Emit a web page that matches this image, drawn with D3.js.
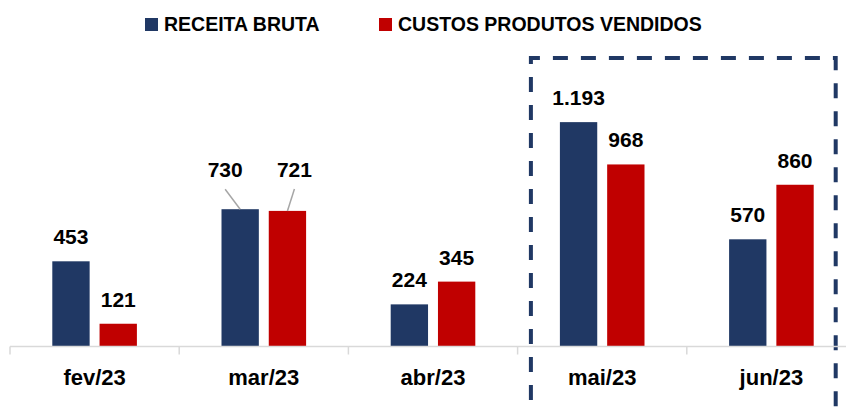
<!DOCTYPE html>
<html>
<head>
<meta charset="utf-8">
<script src="https://cdn.jsdelivr.net/npm/d3@7"></script>
<style>
  body { margin: 0; background: #fff; }
  text { font-family: "Liberation Sans", Arial, sans-serif; font-weight: bold; fill: #000; }
</style>
</head>
<body>
<div class="chart"></div>
<script>
var svgWidth = 846;
var svgHeight = 408;

// data
var months = ["fev/23", "mar/23", "abr/23", "mai/23", "jun/23"];
var seriesNames = ["RECEITA BRUTA", "CUSTOS PRODUTOS VENDIDOS"];
var receitaBruta = [453, 730, 224, 1193, 570];
var custosVendidos = [121, 721, 345, 968, 860];
var highlighted = ["mai/23", "jun/23"];

var colors = ["#203864", "#c00000"];
var seriesValues = [receitaBruta, custosVendidos];

// labels moved off the bar, with leader lines (only mar/23 in the original)
var labelNudge = { "mar/23": [[-15, -15], [7, -17]] };

var ptBR = d3.formatLocale({ decimal: ",", thousands: ".", grouping: [3], currency: ["R$", ""] });
var fmt = ptBR.format(",d");

var axisY = 346.5;

var svg = d3.select(".chart")
  .append("svg")
  .attr("width", svgWidth)
  .attr("height", svgHeight);

var x0 = d3.scaleBand()
  .domain(months)
  .range([10, 856])
  .paddingInner(0.5)
  .paddingOuter(0.25);

var x1 = d3.scaleBand()
  .domain(seriesNames)
  .range([0, x0.bandwidth()])
  .paddingInner(0.21);

var y = d3.scaleLinear()
  .domain([0, 1400])
  .range([axisY, 83.2]);

// dashed highlight box
var boxLeft = x0(highlighted[0]) - 29;
var boxRight = x0(highlighted[1]) + x0.bandwidth() + 22;
svg.append("path")
  .attr("d", `M${boxLeft},${svgHeight + 20} V58 H${boxRight} V${svgHeight + 20}`)
  .attr("fill", "none")
  .attr("stroke", "#203864")
  .attr("stroke-width", 4)
  .attr("stroke-dasharray", "15,13");

// bars
var groups = svg.selectAll(".month")
  .data(months)
  .enter()
  .append("g")
  .attr("class", "month")
  .attr("transform", d => `translate(${x0(d)},0)`);

var cells = groups.selectAll("g.cell")
  .data((m, i) => seriesNames.map((s, j) => ({ month: m, series: s, j: j, value: seriesValues[j][i] })))
  .enter()
  .append("g")
  .attr("class", "cell");

cells.append("rect")
  .attr("x", d => x1(d.series))
  .attr("y", d => y(d.value))
  .attr("width", x1.bandwidth())
  .attr("height", d => axisY - y(d.value))
  .attr("fill", d => colors[d.j]);

// leader lines
cells.filter(d => labelNudge[d.month])
  .append("line")
  .attr("x1", d => x1(d.series) + x1.bandwidth() / 2 + labelNudge[d.month][d.j][0])
  .attr("y1", d => y(d.value) - 17 + labelNudge[d.month][d.j][1] + 12)
  .attr("x2", d => x1(d.series) + x1.bandwidth() / 2)
  .attr("y2", d => y(d.value))
  .attr("stroke", "#a6a6a6")
  .attr("stroke-width", 1.5);

cells.append("text")
  .attr("x", d => x1(d.series) + x1.bandwidth() / 2 + (labelNudge[d.month] ? labelNudge[d.month][d.j][0] : 0))
  .attr("y", d => y(d.value) - 17 + (labelNudge[d.month] ? labelNudge[d.month][d.j][1] : 0))
  .attr("text-anchor", "middle")
  .attr("font-size", "21px")
  .text(d => fmt(d.value));

// x axis
var axisG = svg.append("g");
axisG.append("line")
  .attr("x1", 10)
  .attr("x2", svgWidth)
  .attr("y1", axisY)
  .attr("y2", axisY)
  .attr("stroke", "#d9d9d9")
  .attr("stroke-width", 1.5);

axisG.selectAll(".tick")
  .data(months)
  .enter()
  .append("line")
  .attr("x1", d => x0(d) - x0.step() * 0.25)
  .attr("x2", d => x0(d) - x0.step() * 0.25)
  .attr("y1", axisY)
  .attr("y2", axisY + 8)
  .attr("stroke", "#d9d9d9")
  .attr("stroke-width", 1.5);

axisG.selectAll(".cat")
  .data(months)
  .enter()
  .append("text")
  .attr("x", d => x0(d) + x0.bandwidth() / 2)
  .attr("y", 385)
  .attr("text-anchor", "middle")
  .attr("font-size", "22px")
  .text(d => d);

// legend
var legendX = [145, 379];
var legend = svg.selectAll(".legend")
  .data(seriesNames)
  .enter()
  .append("g")
  .attr("transform", (d, i) => `translate(${legendX[i]},0)`);

legend.append("rect")
  .attr("x", 0)
  .attr("y", 18)
  .attr("width", 13)
  .attr("height", 13)
  .attr("fill", (d, i) => colors[i]);

legend.append("text")
  .attr("x", 19)
  .attr("y", 31)
  .attr("font-size", "19.5px")
  .text(d => d);
</script>
</body>
</html>
